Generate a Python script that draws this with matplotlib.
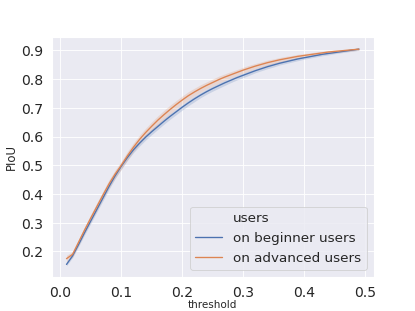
import numpy as np
import matplotlib
matplotlib.use("Agg")
import matplotlib.pyplot as plt
import seaborn as sns
from matplotlib.lines import Line2D

# threshold values and mean PIoU per user group
threshold = [round(0.01 * i, 2) for i in range(1, 50)]

beginner = [0.155, 0.185, 0.225, 0.267, 0.307, 0.347, 0.387, 0.427, 0.464, 0.497,
            0.527, 0.554, 0.577, 0.598, 0.617, 0.635, 0.653, 0.670, 0.686, 0.702,
            0.717, 0.731, 0.744, 0.756, 0.767, 0.777, 0.787, 0.796, 0.805, 0.813,
            0.821, 0.829, 0.836, 0.843, 0.849, 0.855, 0.860, 0.865, 0.870, 0.874,
            0.878, 0.882, 0.886, 0.889, 0.892, 0.895, 0.898, 0.901, 0.904]

advanced = [0.175, 0.190, 0.233, 0.276, 0.317, 0.357, 0.397, 0.436, 0.470, 0.500,
            0.533, 0.563, 0.590, 0.614, 0.636, 0.657, 0.676, 0.694, 0.711, 0.727,
            0.742, 0.755, 0.767, 0.778, 0.788, 0.798, 0.807, 0.815, 0.823, 0.831,
            0.838, 0.845, 0.851, 0.857, 0.862, 0.867, 0.871, 0.875, 0.879, 0.882,
            0.885, 0.888, 0.891, 0.894, 0.896, 0.898, 0.900, 0.902, 0.904]

# half width of the confidence band
beginner_ci = [0.005, 0.006, 0.007, 0.008, 0.009, 0.009, 0.010, 0.010, 0.010, 0.010,
               0.010, 0.010, 0.010, 0.010, 0.010, 0.010, 0.010, 0.010, 0.010, 0.010,
               0.010, 0.010, 0.009, 0.009, 0.009, 0.009, 0.009, 0.008, 0.008, 0.008,
               0.008, 0.007, 0.007, 0.007, 0.007, 0.006, 0.006, 0.006, 0.006, 0.005,
               0.005, 0.005, 0.005, 0.005, 0.004, 0.004, 0.004, 0.004, 0.004]

advanced_ci = [0.012, 0.010, 0.010, 0.011, 0.012, 0.013, 0.013, 0.014, 0.014, 0.014,
               0.015, 0.015, 0.015, 0.015, 0.015, 0.015, 0.015, 0.015, 0.014, 0.014,
               0.014, 0.013, 0.013, 0.012, 0.012, 0.012, 0.011, 0.011, 0.010, 0.010,
               0.010, 0.009, 0.009, 0.009, 0.008, 0.008, 0.008, 0.007, 0.007, 0.006,
               0.006, 0.006, 0.005, 0.005, 0.005, 0.004, 0.004, 0.004, 0.004]

labels = ["on beginner users", "on advanced users"]

sns.set_theme()
colors = sns.color_palette("deep")

fig, ax = plt.subplots(figsize=(6.4, 4.8), dpi=415 / 6.4)

x = np.array(threshold)
for mean, ci, color in [(beginner, beginner_ci, colors[0]), (advanced, advanced_ci, colors[1])]:
    mean = np.array(mean)
    ci = np.array(ci)
    ax.fill_between(x, mean - ci, mean + ci, color=color, alpha=0.2, linewidth=0)
    ax.plot(x, mean, color=color, lw=1.5)

ax.set_xticks([0.0, 0.1, 0.2, 0.3, 0.4, 0.5])
ax.set_yticks([0.2, 0.3, 0.4, 0.5, 0.6, 0.7, 0.8, 0.9])
ax.tick_params(labelsize=15.5)
ax.set_xlabel("threshold", fontsize=11.5, labelpad=1)
ax.set_ylabel("PIoU", fontsize=13)

handles = [Line2D([], [], linestyle="none"),
           Line2D([], [], color=colors[0], lw=1.5),
           Line2D([], [], color=colors[1], lw=1.5)]
ax.legend(handles, ["users"] + labels, loc="lower right", fontsize=15)

plt.savefig("out.png")
